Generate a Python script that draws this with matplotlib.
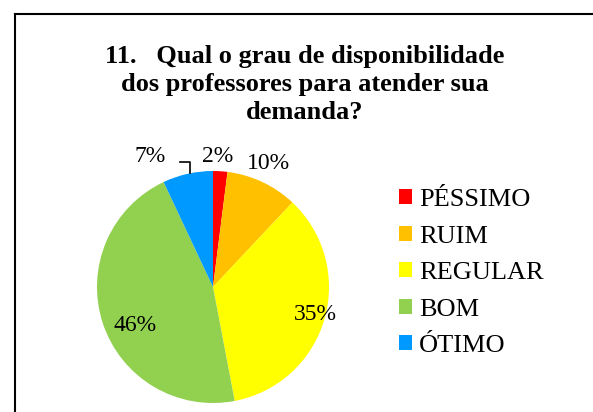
import numpy as np
import matplotlib
matplotlib.use('Agg')
import matplotlib.pyplot as plt
from matplotlib.lines import Line2D
from matplotlib.patches import Patch

plt.rcParams['font.family'] = ['Liberation Serif', 'DejaVu Serif']

title = '11.   Qual o grau de disponibilidade\ndos professores para atender sua\ndemanda?'
categories = ['PÉSSIMO', 'RUIM', 'REGULAR', 'BOM', 'ÓTIMO']
values = [2, 10, 35, 46, 7]
colors = ['#FF0000', '#FFC000', '#FFFF00', '#92D050', '#0099FF']

# label placement: radial distance and angle nudge (deg) per slice
label_dist = [1.14, 1.18, 0.91, 0.74, 1.26]
label_nudge = [1.4, 1.5, 2.0, 7.0, 13.0]

fig = plt.figure(figsize=(5.93, 4.12), dpi=100)

# frame (cropped screenshot: only top and left edges visible)
fig.add_artist(Line2D([15 / 593, 15 / 593], [0, 1 - 14 / 412], transform=fig.transFigure,
                      color='black', lw=1.5))
fig.add_artist(Line2D([15 / 593, 1], [1 - 14 / 412, 1 - 14 / 412], transform=fig.transFigure,
                      color='black', lw=1.5))

fig.text(0.514, 0.795, title, ha='center', va='center', fontsize=19, fontweight='bold',
         linespacing=1.3)

ax = fig.add_axes([(213 - 116) / 593, (412 - 287 - 116) / 412, 232 / 593, 232 / 412])
wedges, _ = ax.pie(values, colors=colors, startangle=90, counterclock=False, radius=1.0,
                   wedgeprops=dict(linewidth=0))
ax.set_xlim(-1, 1)
ax.set_ylim(-1, 1)
ax.set_aspect('equal')
ax.axis('off')

for w, v, d, nudge in zip(wedges, values, label_dist, label_nudge):
    mid = np.deg2rad((w.theta1 + w.theta2) / 2 + nudge)
    ax.text(d * np.cos(mid), d * np.sin(mid) - 0.015, '%d%%' % v, ha='center', va='center',
            fontsize=17, clip_on=False)

# leader line for the ÓTIMO label
w = wedges[4]
mid = np.deg2rad((w.theta1 + w.theta2) / 2 - 1.3)
x0, y0 = np.cos(mid), np.sin(mid)
ax.plot([x0, x0 + 0.0, x0 - 0.09], [y0, 1.075, 1.075], color='black', lw=1.2, clip_on=False)

handles = [Patch(facecolor=c, edgecolor='none') for c in colors]
fig.legend(handles, categories, loc='upper left', bbox_to_anchor=(399 / 593, 1 - 189 / 412),
           frameon=False, fontsize=19, handlelength=0.5, handleheight=0.5, handletextpad=0.25,
           labelspacing=0.55, borderpad=0, borderaxespad=0)

fig.savefig('out.png', dpi=100)
